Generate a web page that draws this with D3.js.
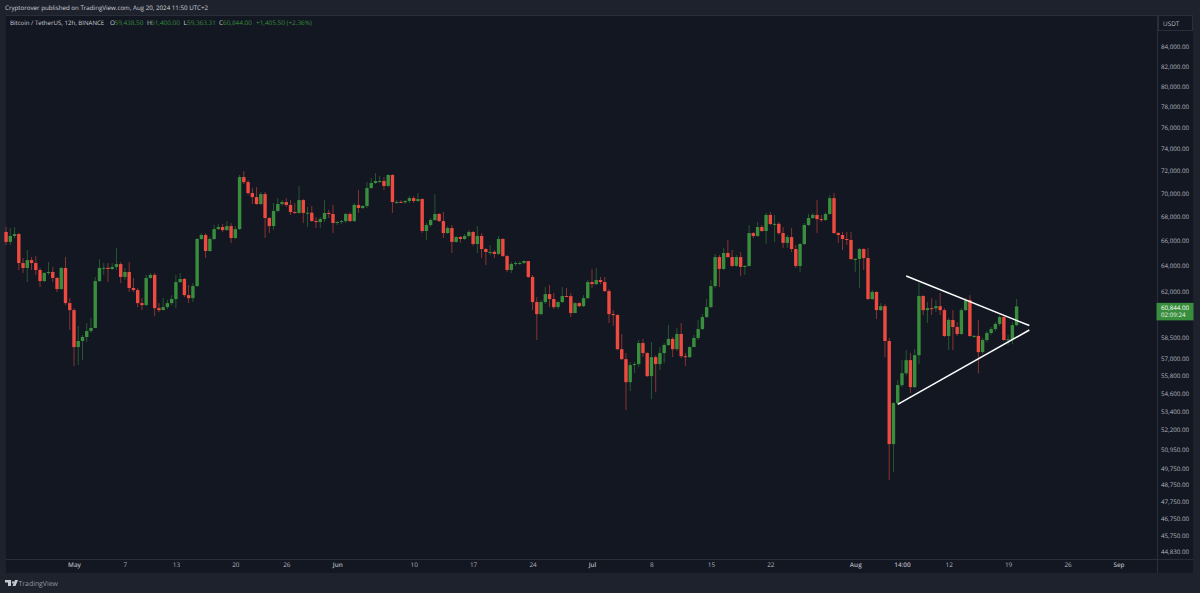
<!DOCTYPE html>
<html>
<head>
<meta charset="utf-8">
<script src="https://cdn.jsdelivr.net/npm/d3@7"></script>
<style>
  html, body { margin: 0; padding: 0; background: #1e222d; }
  text { font-family: "Open Sans", sans-serif; text-rendering: geometricPrecision; }
</style>
</head>
<body>
<div id="chart"></div>
<script>
// BTC/USDT 12h candles, one every 12 hours from 2024-04-23 00:00 UTC
var firstOpen = 66740;

var closes = [
  65920,66410,66570,64210,63820,64450,64210,63660,62790,63420,
  63500,63030,62170,63820,61090,60560,57840,58280,58570,59010,
  59230,62790,63820,63830,63740,63900,64130,63110,63500,62250,
  62090,61090,60940,63030,63270,60710,60560,60790,61090,61400,
  62710,62950,61700,61470,62400,66160,66490,65180,66160,66980,
  67150,66900,67230,66240,66980,71460,71010,70050,69700,69100,
  69960,67910,67230,68510,69100,69270,69020,68420,68340,69440,
  68340,68360,67660,67570,67820,68340,68250,67490,67570,67650,
  68250,67650,69020,68760,68930,70490,70930,71100,71110,70670,
  71640,69270,69280,69250,69360,69610,69360,69530,66820,67320,
  67740,68250,67650,66650,67070,65920,66320,66160,66410,66740,
  65750,66410,65340,65100,65110,64940,66160,64770,63660,64130,
  64210,64220,64370,63110,61170,60260,61170,61780,61400,60790,
  61170,61630,61620,60340,61090,60860,61470,62710,62550,62870,
  62710,62010,60260,60190,57690,56980,55370,56560,56630,58130,
  57410,55790,57120,56630,57410,57990,58430,57690,58790,57190,
  57120,57840,58500,59150,60040,60790,62400,64690,63740,65020,
  64690,63980,64690,63900,63980,66650,66410,67150,66820,68170,
  67400,67420,66650,65840,66320,65340,63980,65750,67320,67910,
  68170,67820,67740,68250,69610,66650,66490,66160,66080,64530,
  64540,65340,64610,61400,61940,60560,60860,58280,51270,53950,
  55170,55990,56910,55030,57260,61630,60560,60710,60700,60860,
  60560,58640,59820,59300,58790,60560,61320,58640,58650,57480,
  58350,58860,59150,59530,60040,58350,58400,59438.5,60844
];

var highs = [
  67150,67070,67150,66650,64610,65260,64690,64770,63820,63500,
  64290,63900,63110,63900,64690,61470,60710,59380,58720,59600,
  59970,63110,64530,64210,64210,64210,65420,64290,63820,64290,
  63030,62250,61470,63270,63420,63420,61090,61470,61320,61700,
  63270,63420,63030,62480,62630,66240,66650,66650,66320,67320,
  67400,67400,67650,67480,67230,71640,71990,71190,70490,70570,
  70140,70140,67990,69190,69610,69440,69610,69440,69190,70660,
  69530,68840,68930,67990,67990,69440,68590,69020,67650,67740,
  68340,68420,69190,70310,69020,71010,71370,71810,71550,71460,
  71720,71720,69440,69440,69440,69780,69780,70050,69610,67480,
  67910,69960,68340,68420,67230,67320,66410,66410,66570,66900,
  66820,67230,66650,65420,65670,65260,66410,66240,64860,64290,
  64370,64370,64450,64370,63270,61550,61320,62320,62480,61860,
  61240,62320,62250,61860,61170,61170,61700,62870,63740,63820,
  63110,63110,62170,60560,60260,58790,57410,56770,56770,58350,
  58430,57480,58200,57260,57840,58130,59450,58570,59230,59600,
  57410,57910,58720,59820,60260,61400,62870,64940,64860,65420,
  66080,65260,64860,65100,64050,67320,66740,67570,67320,68340,
  68420,68170,67570,67150,66490,67070,65670,65840,67490,68250,
  68340,69440,68170,68420,69870,70050,66740,66740,66740,66740,
  64610,65420,65420,65420,62090,62010,61090,61020,58500,54020,
  55510,56910,57620,57410,57690,62630,61700,61170,61470,61320,
  61860,60710,59970,60560,59670,60710,61470,61700,58720,59820,
  58500,59010,59300,59670,60190,60190,58720,59670,61400
];

var lows = [
  65670,65670,66240,63660,63420,62710,63660,63270,62320,62710,
  63270,62710,61940,62090,60940,59080,56490,56560,56910,58200,
  58860,59230,62710,63270,62710,63660,63660,62630,62870,61940,
  61940,60790,60560,60860,62950,60110,60410,60560,60640,60940,
  60710,62630,61550,61090,61170,62320,66080,64610,65100,66080,
  66900,66740,66820,65840,66160,66900,70840,69880,69100,69020,
  69020,66240,66650,66900,68420,68930,68840,68170,68250,68250,
  67490,67150,67570,67070,67070,67570,67910,66650,67320,67400,
  67490,67570,67570,68340,68670,68760,70400,70840,70930,70310,
  70570,68340,69100,69190,69100,69190,69190,69270,66650,66080,
  67150,67650,67570,66240,66570,65020,65840,65840,66080,66320,
  65590,65020,64610,64050,64860,64610,64860,64690,63500,63420,
  63980,64050,64130,63030,60560,58350,60190,61020,60790,60640,
  60640,61090,61550,60040,60340,60790,60790,61400,62250,62480,
  62550,61940,59600,59380,57620,56910,53480,54760,56000,56420,
  57130,55720,54220,54690,56210,56700,57910,57130,57550,57050,
  56490,57050,57840,58350,59080,59970,60710,62250,62320,63660,
  64610,63900,63900,63190,63270,63900,66240,66320,66740,65750,
  67320,65920,66490,65420,65420,65100,63820,63500,65670,67230,
  67820,66650,67570,67650,68170,66570,65840,65260,65670,64450,
  63500,62250,63660,61320,61320,59890,60490,57120,49020,49520,
  53880,55030,55850,54620,54960,56630,60190,59600,60190,60410,
  60190,58570,57620,57620,58640,58720,60490,58570,58500,55990,
  57340,58200,58720,59010,59380,58280,57990,58060,59363.31
];

var priceTicks = [84000,82000,80000,78000,76000,74000,72000,70000,68000,66000,64000,62000,
  58500,57000,55800,54600,53400,52200,50950,49750,48750,47750,46750,45750,44830];

var timeTickDates = ["2024-05-01 00","2024-05-07 00","2024-05-13 00","2024-05-20 00","2024-05-26 00","2024-06-01 00",
  "2024-06-10 00","2024-06-17 00","2024-06-24 00","2024-07-01 00","2024-07-08 00","2024-07-15 00","2024-07-22 00",
  "2024-08-01 00","2024-08-06 12","2024-08-12 00","2024-08-19 00","2024-08-26 00","2024-09-01 00"];
var timeTickLabels = ["May","7","13","20","26","Jun","10","17","24","Jul","8","15","22","Aug","14:00","12","19","26","Sep"];

// the two hand drawn triangle lines: [date, price]
var upperLine = [["2024-08-07 00", 63180], ["2024-08-21 12", 59410]];
var lowerLine = [["2024-08-06 00", 53860], ["2024-08-21 12", 59080]];

var lastPrice = 60844;
var countdown = "02:09:24";

var legendParts = [
  {t: "Bitcoin / TetherUS, 12h, BINANCE", x: 10, c: "#c8cad2", s: 6.1},
  {t: "O", x: 110, c: "#c8cad2", s: 6.4}, {t: "59,438.50", x: 114.5, c: "#388e3c", s: 6.4},
  {t: "H", x: 147, c: "#c8cad2", s: 6.4}, {t: "61,400.00", x: 151, c: "#388e3c", s: 6.4},
  {t: "L", x: 183.5, c: "#c8cad2", s: 6.4}, {t: "59,363.31", x: 187, c: "#388e3c", s: 6.4},
  {t: "C", x: 219, c: "#c8cad2", s: 6.4}, {t: "60,844.00", x: 223, c: "#388e3c", s: 6.4},
  {t: "+1,405.50 (+2.36%)", x: 256, c: "#388e3c", s: 6.4}
];

var upColor = "#388e3c", downColor = "#ee4a40", textColor = "#b2b5be", lineColor = "#2a2e39";
var paneBg = "#131722", outerBg = "#1e222d";
var width = 1200, height = 593;
var pane = {left: 6, right: 1157, top: 15, bottom: 559};

var parseBar = d3.utcParse("%Y-%m-%d %H");
var start = parseBar("2024-04-23 00");

var data = closes.map(function(c, i) {
  return {
    time: d3.utcHour.offset(start, i * 12),
    open: i ? closes[i - 1] : firstOpen,
    high: highs[i],
    low: lows[i],
    close: c
  };
});

var svg = d3.select("#chart").append("svg")
  .attr("width", width)
  .attr("height", height)
  .style("display", "block");

svg.append("rect").attr("width", width).attr("height", height).attr("fill", outerBg);
svg.append("rect")
  .attr("x", pane.left).attr("y", pane.top)
  .attr("width", 1193 - pane.left).attr("height", 573 - pane.top)
  .attr("fill", paneBg);

var x = d3.scaleUtc()
  .domain([parseBar("2024-05-01 00"), parseBar("2024-09-01 00")])
  .range([74, 1118.5]);

var y = d3.scaleLog()
  .domain([84000, 44830])
  .range([47, 552]);

var candleW = 3.4;

// Add candles
var candles = svg.append("g");
candles.selectAll("line")
  .data(data)
  .enter().append("line")
    .attr("x1", function(d) { return x(d.time); })
    .attr("x2", function(d) { return x(d.time); })
    .attr("y1", function(d) { return y(d.high); })
    .attr("y2", function(d) { return y(d.low); })
    .attr("stroke", function(d) { return d.close >= d.open ? upColor : downColor; })
    .attr("stroke-opacity", 0.6)
    .attr("stroke-width", 0.9);

candles.selectAll("rect")
  .data(data)
  .enter().append("rect")
    .attr("x", function(d) { return x(d.time) - candleW / 2; })
    .attr("y", function(d) { return y(Math.max(d.open, d.close)); })
    .attr("width", candleW)
    .attr("height", function(d) { return Math.max(1, Math.abs(y(d.open) - y(d.close))); })
    .attr("fill", function(d) { return d.close >= d.open ? upColor : downColor; });

// Triangle lines
var trendLine = d3.line()
  .x(function(d) { return x(parseBar(d[0])); })
  .y(function(d) { return y(d[1]); });

[upperLine, lowerLine].forEach(function(l) {
  svg.append("path")
    .attr("d", trendLine(l))
    .attr("fill", "none")
    .attr("stroke", "#ffffff")
    .attr("stroke-width", 1.5);
});

// Price axis
svg.append("rect")
  .attr("x", pane.right).attr("y", pane.top)
  .attr("width", 1193 - pane.right).attr("height", 573 - pane.top)
  .attr("fill", paneBg);

var yAxis = svg.append("g")
  .attr("transform", "translate(" + pane.right + ",0)")
  .call(d3.axisRight(y).tickValues(priceTicks).tickFormat(d3.format(",.2f")).tickSize(0).tickPadding(4));
yAxis.select(".domain").remove();
yAxis.selectAll("text")
  .attr("fill", textColor)
  .style("font-size", "6.2px");

// Time axis
var xAxis = svg.append("g")
  .attr("transform", "translate(0," + pane.bottom + ")")
  .call(d3.axisBottom(x)
    .tickValues(timeTickDates.map(parseBar))
    .tickFormat(function(d, i) { return timeTickLabels[i]; })
    .tickSize(0).tickPadding(3));
xAxis.select(".domain").remove();
xAxis.selectAll("text")
  .attr("fill", textColor)
  .style("font-size", "6.4px")
  .style("font-weight", function(d, i) { return isNaN(+timeTickLabels[i]) ? 600 : 400; });

// Pane borders
svg.append("path")
  .attr("d", "M" + pane.left + "," + (pane.bottom + 0.5) + "H1193")
  .attr("stroke", lineColor).attr("fill", "none");
svg.append("path")
  .attr("d", "M" + (pane.right + 0.5) + "," + pane.top + "V573")
  .attr("stroke", lineColor).attr("fill", "none");
svg.append("path")
  .attr("d", "M" + pane.left + "," + (pane.top + 0.5) + "H1193")
  .attr("stroke", lineColor).attr("fill", "none");

// USDT box
svg.append("rect")
  .attr("x", 1158.5).attr("y", 15.5)
  .attr("width", 34).attr("height", 15)
  .attr("fill", paneBg).attr("stroke", lineColor);
svg.append("text")
  .attr("x", 1163).attr("y", 26)
  .attr("fill", textColor)
  .style("font-size", "6.4px")
  .text("USDT");

// Last price tag
var tagY = y(lastPrice);
svg.append("rect")
  .attr("x", 1156.5).attr("y", tagY - 3.5)
  .attr("width", 37).attr("height", 17.5)
  .attr("fill", upColor);
svg.append("text")
  .attr("x", 1161).attr("y", tagY + 4)
  .attr("fill", "#ffffff")
  .style("font-size", "6.2px")
  .text(d3.format(",.2f")(lastPrice));
svg.append("text")
  .attr("x", 1161).attr("y", tagY + 11)
  .attr("fill", "#e6f2e6")
  .style("font-size", "6.2px")
  .text(countdown);

// Header and legend
svg.append("text")
  .attr("x", 5).attr("y", 10)
  .attr("fill", "#d1d4dc")
  .style("font-size", "6.2px")
  .text("Cryptorover published on TradingView.com, Aug 20, 2024 11:50 UTC+2");

svg.selectAll(".legend")
  .data(legendParts)
  .enter().append("text")
    .attr("class", "legend")
    .attr("x", function(d) { return d.x; })
    .attr("y", 25)
    .attr("fill", function(d) { return d.c; })
    .style("font-size", function(d) { return d.s + "px"; })
    .text(function(d) { return d.t; });

// Footer logo and name
svg.append("path")
  .attr("d", "M5,580h6v6h-3v-3.5h-3zM13,581.2a1.2,1.2 0 1,0 0.01,0zM15,580h3l-2.5,6h-3z")
  .attr("fill", "#c8cad2");
svg.append("text")
  .attr("x", 18.5).attr("y", 586)
  .attr("fill", "#9598a1")
  .style("font-size", "6.9px")
  .text("TradingView");
</script>
</body>
</html>
